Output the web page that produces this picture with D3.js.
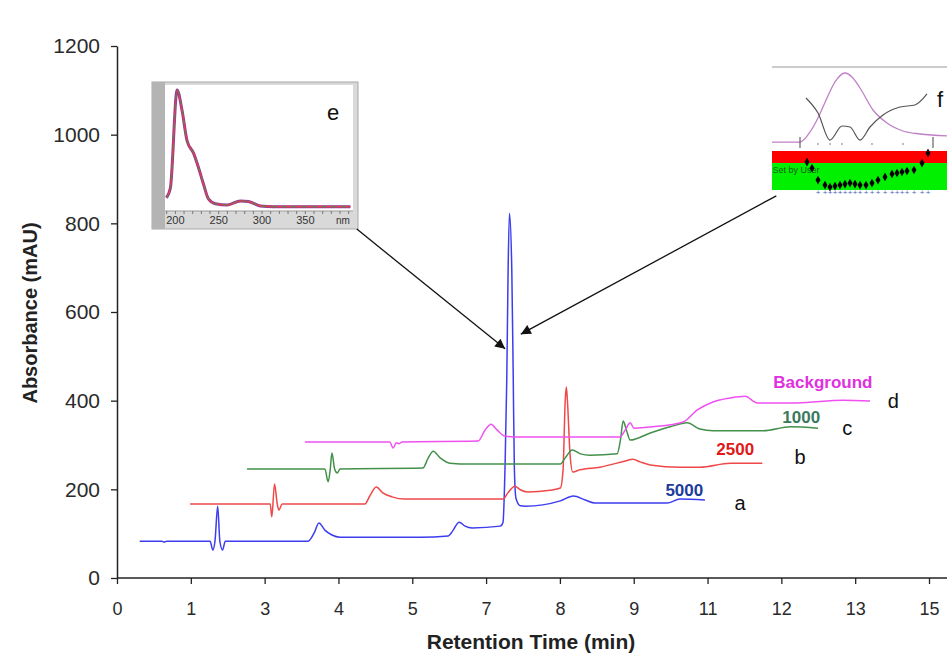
<!DOCTYPE html>
<html>
<head>
<meta charset="utf-8">
<script src="https://cdn.jsdelivr.net/npm/d3@7"></script>
<style>
body { margin: 0; background: #fff; }
svg { display: block; }
text { font-family: "Liberation Sans", Arial, sans-serif; }
</style>
</head>
<body>
<div id="chart"></div>
<script>
// axis ticks
const xTickLabels = ["0", "1", "3", "4", "5", "7", "8", "9", "11", "12", "13", "15"];
const yTicks = [0, 200, 400, 600, 800, 1000, 1200];

// chromatograms, retention time (min) / absorbance (mAU)
const t5000 = [0.42, 0.83, 0.87, 0.92, 1.72, 1.77, 1.81, 1.86, 1.90, 1.95, 2.00, 3.53, 3.64, 3.73, 3.84, 3.97, 4.12, 5.60, 6.12, 6.21, 6.32, 6.43, 6.56, 7.08, 7.13, 7.17, 7.20, 7.225, 7.25, 7.293, 7.32, 7.34, 7.37, 7.45, 7.54, 8.19, 8.43, 8.65, 8.83, 10.16, 10.40, 10.86];
const v5000 = [83, 83, 81, 83, 83, 63, 83, 162, 83, 63, 83, 83, 101, 124, 108, 97, 92, 92, 95, 108, 126, 117, 113, 117, 125, 260, 447, 695, 823, 695, 447, 250, 180, 163, 162, 174, 185, 176, 169, 169, 178, 176];

const t2500 = [1.35, 2.83, 2.86, 2.91, 2.96, 2.99, 3.05, 4.58, 4.67, 4.79, 4.91, 5.08, 5.32, 7.13, 7.22, 7.35, 7.45, 7.58, 8.00, 8.19, 8.24, 8.28, 8.30, 8.32, 8.37, 8.42, 8.55, 8.92, 9.39, 9.53, 9.66, 9.85, 10.40, 10.77, 11.33, 11.92];
const v2500 = [167, 167, 138, 212, 167, 153, 167, 167, 185, 205, 192, 183, 178, 178, 192, 207, 199, 194, 198, 203, 244, 401, 431, 401, 277, 239, 244, 250, 264, 268, 262, 255, 250, 250, 259, 259];

const t1000 = [2.40, 3.84, 3.90, 3.94, 3.97, 4.02, 4.07, 4.12, 5.65, 5.75, 5.84, 5.97, 6.15, 6.52, 8.19, 8.28, 8.41, 8.56, 8.74, 9.24, 9.30, 9.35, 9.41, 9.48, 9.85, 10.22, 10.53, 10.77, 11.01, 11.94, 12.44, 12.95];
const v1000 = [246, 246, 217, 246, 282, 246, 237, 246, 248, 271, 286, 271, 259, 257, 257, 271, 289, 280, 277, 280, 311, 354, 334, 311, 327, 341, 350, 336, 332, 332, 341, 338];

const tBg = [3.47, 5.04, 5.10, 5.16, 5.21, 5.27, 6.67, 6.80, 6.91, 7.02, 7.17, 7.45, 9.29, 9.39, 9.48, 9.55, 9.90, 10.46, 10.72, 11.01, 11.33, 11.60, 11.83, 12.56, 13.41, 13.91];
const vBg = [307, 307, 293, 305, 303, 307, 309, 334, 347, 334, 320, 318, 318, 334, 350, 338, 341, 352, 379, 397, 406, 410, 395, 395, 401, 399];

// inset e : UV spectrum of the peak
const eNm = [189.6, 194.2, 202, 207.7, 213.5, 220.8, 226.6, 232.3, 238.1, 246.2, 260, 275, 284.3, 298, 313, 402];
const eAbs = [0.11, 0.19, 1.0, 0.83, 0.58, 0.48, 0.36, 0.225, 0.10, 0.06, 0.05, 0.083, 0.078, 0.042, 0.036, 0.036];
const eTicks = [200, 250, 300, 350];

// inset f : peak purity plot
const fPurX = [0, 28, 38, 46, 55, 63, 73, 80, 88, 101, 115, 131, 148, 175];
const fPurY = [9.6, 9.6, 21.7, 38.6, 62.7, 82, 92.8, 88, 74.7, 48.2, 32.5, 22.9, 19.3, 16.9];
const fSimX = [34, 46, 58, 70, 78, 88, 98, 111, 128, 143, 155];
const fSimY = [62.7, 44.6, 12, 28.9, 27.7, 12, 27.7, 42.2, 51.8, 54.2, 67.5];
const fDiaX = [35, 40, 46, 53, 58, 63, 68, 73, 78, 83, 88, 94, 100, 106, 113, 120, 125, 130, 135, 142, 150, 156];
const fDiaY = [-14.5, -21.7, -36.2, -42.2, -44.6, -43.4, -42.2, -41, -39.8, -41, -42.2, -42.2, -39.8, -36.2, -32.5, -28.9, -27.7, -26.5, -25.3, -24.1, -15.7, -3.6];
const fMarks = [28, 161];
const fDots = [46, 58, 70, 100, 131];

const series = [
	{name: "5000", t: t5000, v: v5000, color: "#3c3cf0", labelColor: "#1c3c9c", lx: 10.48, ly: 198, letter: "a", ax: 11.51, ay: 169},
	{name: "2500", t: t2500, v: v2500, color: "#f04848", labelColor: "#e01818", lx: 11.42, ly: 289, letter: "b", ax: 12.62, ay: 273},
	{name: "1000", t: t1000, v: v1000, color: "#43904a", labelColor: "#3a7a5c", lx: 12.64, ly: 363, letter: "c", ax: 13.49, ay: 338},
	{name: "Background", t: tBg, v: vBg, color: "#f050f0", labelColor: "#e030e0", lx: 13.04, ly: 440, letter: "d", ax: 14.34, ay: 400}
];

const width = 947, height = 653;

let svg = d3.select("#chart").append("svg")
	.attr("width", width)
	.attr("height", height);

svg.append("rect").attr("width", width).attr("height", height).attr("fill", "#fff");

let x = d3.scaleLinear().domain([0, 15]).range([117, 929]);
let y = d3.scaleLinear().domain([0, 1200]).range([578, 46]);

let defs = svg.append("defs");
defs.append("marker")
	.attr("id", "arrow")
	.attr("viewBox", "0 0 10 10")
	.attr("refX", 10)
	.attr("refY", 5)
	.attr("markerWidth", 12)
	.attr("markerHeight", 10)
	.attr("markerUnits", "userSpaceOnUse")
	.attr("orient", "auto")
	.append("path")
	.attr("d", "M0,0L10,5L0,10z")
	.attr("fill", "#111");

// axes
let xAxis = d3.axisBottom(x)
	.tickValues(d3.range(xTickLabels.length).map(i => 15 * i / (xTickLabels.length - 1)))
	.tickFormat((d, i) => xTickLabels[i])
	.tickSize(6)
	.tickSizeOuter(0)
	.tickPadding(18);

let gx = svg.append("g")
	.attr("transform", `translate(0, ${y(0)})`)
	.call(xAxis);
gx.select(".domain").attr("d", `M${x(0)},0H${width}`);

let yAxis = d3.axisLeft(y)
	.tickValues(yTicks)
	.tickFormat(d3.format("d"))
	.tickSize(6)
	.tickSizeOuter(0)
	.tickPadding(11);

let gy = svg.append("g")
	.attr("transform", `translate(${x(0)}, 0)`)
	.call(yAxis);

svg.selectAll(".domain").attr("stroke", "#222").attr("stroke-width", 1.5);
svg.selectAll(".tick line").attr("stroke", "#222").attr("stroke-width", 1.3);
gx.selectAll(".tick text").style("font-size", "18px").attr("fill", "#2a2a2a");
gy.selectAll(".tick text").style("font-size", "21px").attr("fill", "#2a2a2a");

svg.append("text")
	.attr("x", 531)
	.attr("y", 641)
	.attr("text-anchor", "middle")
	.attr("dominant-baseline", "central")
	.style("font-size", "21px")
	.style("font-weight", "bold")
	.attr("fill", "#222")
	.text("Retention Time (min)");

svg.append("text")
	.attr("transform", "translate(30, 313) rotate(-90)")
	.attr("text-anchor", "middle")
	.attr("dominant-baseline", "central")
	.style("font-size", "20px")
	.style("font-weight", "bold")
	.attr("fill", "#222")
	.text("Absorbance (mAU)");

// traces
let line = d3.line()
	.x(d => x(d[0]))
	.y(d => y(d[1]))
	.curve(d3.curveMonotoneX);

for (let s of series) {
	let pts = s.t.map((t, i) => [t, s.v[i]]);
	svg.append("path")
		.datum(pts)
		.attr("d", line)
		.attr("fill", "none")
		.attr("stroke", s.color)
		.attr("stroke-width", 1.5);

	svg.append("text")
		.attr("x", x(s.lx))
		.attr("y", y(s.ly))
		.attr("text-anchor", "middle")
		.attr("dominant-baseline", "central")
		.style("font-size", "17px")
		.style("font-weight", "bold")
		.attr("fill", s.labelColor)
		.text(s.name);

	svg.append("text")
		.attr("x", x(s.ax))
		.attr("y", y(s.ay))
		.attr("text-anchor", "middle")
		.attr("dominant-baseline", "central")
		.style("font-size", "20px")
		.attr("fill", "#111")
		.text(s.letter);
}

// inset e
let ex = d3.scaleLinear().domain([188, 405]).range([165, 353]);
let ey = d3.scaleLinear().domain([0, 1]).range([211, 90]);
let ge = svg.append("g");
ge.append("rect").attr("x", 152).attr("y", 82).attr("width", 206).attr("height", 147)
	.attr("fill", "#d9d9d9").attr("stroke", "#a8a8a8");
ge.append("rect").attr("x", 152).attr("y", 82).attr("width", 13).attr("height", 147)
	.attr("fill", "#b4b4b4");
ge.append("rect").attr("x", ex(188)).attr("y", 85).attr("width", ex(405) - ex(188)).attr("height", ey(0) - 85)
	.attr("fill", "#fff");
ge.append("line").attr("x1", ex(188)).attr("x2", ex(405)).attr("y1", ey(0)).attr("y2", ey(0))
	.attr("stroke", "#999");
ge.selectAll(".eminor")
	.data(d3.range(190, 401, 10))
	.enter()
	.append("line")
	.attr("x1", d => ex(d)).attr("x2", d => ex(d))
	.attr("y1", ey(0)).attr("y2", ey(0) + 3)
	.attr("stroke", "#777");
ge.selectAll(".elab")
	.data(eTicks)
	.enter()
	.append("text")
	.attr("x", d => ex(d))
	.attr("y", 220)
	.attr("text-anchor", "middle")
	.attr("dominant-baseline", "central")
	.style("font-size", "11px")
	.attr("fill", "#333")
	.text(d => d);
ge.append("text").attr("x", 343).attr("y", 220)
	.attr("text-anchor", "middle").attr("dominant-baseline", "central")
	.style("font-size", "10px").attr("fill", "#333").text("nm");

let eLine = d3.line().x(d => ex(d[0])).y(d => ey(d[1])).curve(d3.curveMonotoneX);
let ePts = eNm.map((n, i) => [n, eAbs[i]]);
ge.append("path").datum(ePts).attr("d", eLine).attr("fill", "none").attr("stroke", "#8a3f9a").attr("stroke-width", 3);
ge.append("path").datum(ePts).attr("d", eLine).attr("fill", "none").attr("stroke", "#d8405a").attr("stroke-width", 1.6);
ge.append("path").datum(ePts).attr("d", eLine).attr("fill", "none").attr("stroke", "#5a8a3a").attr("stroke-width", 1)
	.attr("stroke-dasharray", "4 6");
ge.append("text").attr("x", 333).attr("y", 112)
	.attr("text-anchor", "middle").attr("dominant-baseline", "central")
	.style("font-size", "22px").attr("fill", "#111").text("e");

// inset f
let fx = d3.scaleLinear().domain([0, 175]).range([772, 947]);
let fy = d3.scaleLinear().domain([0, 100]).range([150, 67]);
let gf = svg.append("g");
gf.append("line").attr("x1", fx(0)).attr("x2", fx(175)).attr("y1", fy(100)).attr("y2", fy(100))
	.attr("stroke", "#999").attr("stroke-width", 1.2);
gf.append("rect").attr("x", fx(0)).attr("y", fy(-1.2)).attr("width", fx(175) - fx(0)).attr("height", fy(-15.7) - fy(-1.2))
	.attr("fill", "#ff0000");
gf.append("rect").attr("x", fx(0)).attr("y", fy(-15.7)).attr("width", fx(175) - fx(0)).attr("height", fy(-48.2) - fy(-15.7))
	.attr("fill", "#00f000");
gf.append("text").attr("x", fx(0.5)).attr("y", fy(-24))
	.attr("dominant-baseline", "central")
	.style("font-size", "9px").attr("fill", "#1a5a1a").text("Set by User");

let fLine = d3.line().x(d => fx(d[0])).y(d => fy(d[1])).curve(d3.curveMonotoneX);
gf.append("path").datum(fPurX.map((v, i) => [v, fPurY[i]])).attr("d", fLine)
	.attr("fill", "none").attr("stroke", "#c080c8").attr("stroke-width", 1.3);
gf.append("path").datum(fSimX.map((v, i) => [v, fSimY[i]])).attr("d", fLine)
	.attr("fill", "none").attr("stroke", "#555").attr("stroke-width", 1.2);
gf.selectAll(".fmark").data(fMarks).enter().append("line")
	.attr("x1", d => fx(d)).attr("x2", d => fx(d))
	.attr("y1", fy(15.7)).attr("y2", fy(2.4))
	.attr("stroke", "#444").attr("stroke-width", 1);
gf.selectAll(".fdot").data(fDots).enter().append("circle")
	.attr("cx", d => fx(d)).attr("cy", fy(7.2)).attr("r", 0.8).attr("fill", "#666");
gf.selectAll(".fplus").data(fDiaX.slice(2)).enter().append("text")
	.attr("x", d => fx(d)).attr("y", fy(-51.5))
	.attr("text-anchor", "middle").attr("dominant-baseline", "central")
	.style("font-size", "8px").attr("fill", "#5060c0").text("+");
gf.selectAll(".fdia").data(fDiaX.map((v, i) => [v, fDiaY[i]])).enter().append("path")
	.attr("d", d3.symbol(d3.symbolDiamond, 22))
	.attr("transform", d => `translate(${fx(d[0])}, ${fy(d[1])})`)
	.attr("fill", "#000");
gf.append("text").attr("x", 940).attr("y", 99)
	.attr("text-anchor", "middle").attr("dominant-baseline", "central")
	.style("font-size", "22px").attr("fill", "#111").text("f");

// arrows pointing at the main peak
const arrows = [
	{from: [4.43, 787], to: [7.17, 517]},
	{from: [12.18, 862], to: [7.46, 550]}
];
svg.selectAll(".arrow")
	.data(arrows)
	.enter()
	.append("line")
	.attr("x1", d => x(d.from[0])).attr("y1", d => y(d.from[1]))
	.attr("x2", d => x(d.to[0])).attr("y2", d => y(d.to[1]))
	.attr("stroke", "#111")
	.attr("stroke-width", 1.3)
	.attr("marker-end", "url(#arrow)");
</script>
</body>
</html>
